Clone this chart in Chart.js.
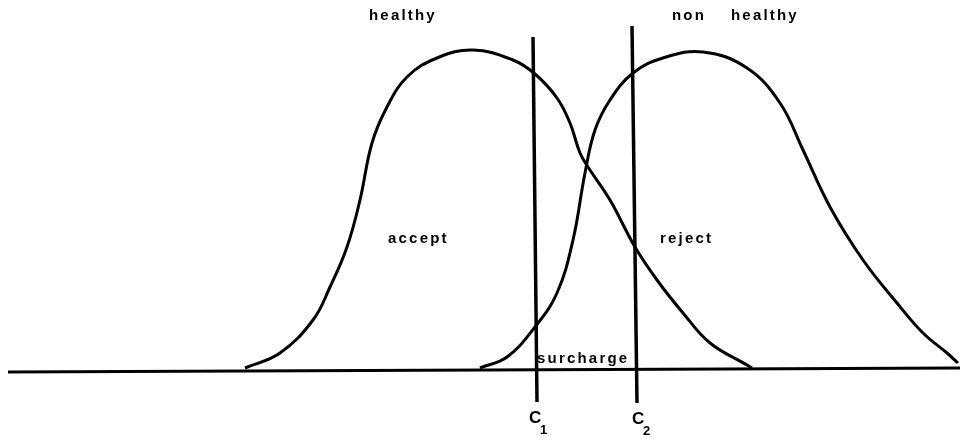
<!DOCTYPE html>
<html>
<head>
<meta charset="utf-8">
<script src="https://cdn.jsdelivr.net/npm/chart.js@4/dist/chart.umd.min.js"></script>
<style>
  html, body { margin: 0; padding: 0; background: #fff; }
  #wrap { width: 965px; height: 441px; position: relative; }
</style>
</head>
<body>
<div id="wrap"><canvas id="curves"></canvas></div>
<script>
// x runs left to right, y is measured down from the top of the sheet
const healthyX = [245, 280, 313, 330, 347, 360, 372, 387, 407, 437, 473, 513, 535, 557, 570, 580, 588, 610, 635, 657, 683, 710, 747, 752];
const healthyY = [368, 353, 320, 287, 247, 200, 143, 107, 77, 58, 50, 60, 74, 98, 123, 153, 167, 200, 247, 280, 313, 343, 365, 368];

const nonHealthyX = [480, 507, 535, 557, 573, 585, 595, 610, 633, 663, 703, 747, 780, 803, 830, 863, 897, 923, 947, 958];
const nonHealthyY = [368, 357, 327, 293, 240, 173, 130, 100, 73, 58, 52, 68, 103, 150, 207, 260, 303, 333, 353, 363];

const baseX = [8, 960];
const baseY = [372, 368];

const c1X = [533, 537];
const c1Y = [37, 402];
const c2X = [632, 637];
const c2Y = [26, 403];

const notes = [
  { text: 'healthy', x: 369, y: 16 },
  { text: 'non', x: 672, y: 16 },
  { text: 'healthy', x: 731, y: 16 },
  { text: 'accept', x: 388, y: 239 },
  { text: 'reject', x: 660, y: 239 },
  { text: 'surcharge', x: 537, y: 359 }
];
const cuts = [
  { main: 'C', sub: '1', x: 529, y: 418 },
  { main: 'C', sub: '2', x: 632, y: 419 }
];

function pts(xs, ys) {
  return xs.map((x, i) => ({ x: x, y: ys[i] }));
}

function lineSet(xs, ys, width, tension) {
  return {
    data: pts(xs, ys),
    borderColor: '#000',
    borderWidth: width,
    pointRadius: 0,
    showLine: true,
    fill: false,
    tension: tension
  };
}

const textPlugin = {
  id: 'notes',
  afterDatasetsDraw(chart) {
    const c = chart.ctx;
    const xs = chart.scales.x, ys = chart.scales.y;
    c.save();
    c.fillStyle = '#000';
    c.textBaseline = 'middle';
    c.textAlign = 'left';
    c.font = 'bold 15px "Liberation Sans", Arial, sans-serif';
    c.letterSpacing = '2.2px';
    notes.forEach(n => {
      c.fillText(n.text, xs.getPixelForValue(n.x), ys.getPixelForValue(n.y));
    });
    cuts.forEach(n => {
      const px = xs.getPixelForValue(n.x), py = ys.getPixelForValue(n.y);
      c.letterSpacing = '0px';
      c.font = 'bold 17px "Liberation Sans", Arial, sans-serif';
      c.fillText(n.main, px, py);
      c.font = 'bold 13px "Liberation Sans", Arial, sans-serif';
      c.fillText(n.sub, px + 11, py + 12);
    });
    c.restore();
  }
};

new Chart(document.getElementById('curves'), {
  type: 'scatter',
  data: {
    datasets: [
      lineSet(baseX, baseY, 3, 0),
      lineSet(healthyX, healthyY, 3, 0.4),
      lineSet(nonHealthyX, nonHealthyY, 3, 0.4),
      lineSet(c1X, c1Y, 3.5, 0),
      lineSet(c2X, c2Y, 3.5, 0)
    ]
  },
  options: {
    responsive: true,
    maintainAspectRatio: false,
    animation: false,
    layout: { padding: 0 },
    plugins: {
      legend: { display: false },
      tooltip: { enabled: false }
    },
    scales: {
      x: { type: 'linear', min: 0, max: 965, display: false },
      y: { type: 'linear', min: 0, max: 441, reverse: true, display: false }
    }
  },
  plugins: [textPlugin]
});
</script>
</body>
</html>
